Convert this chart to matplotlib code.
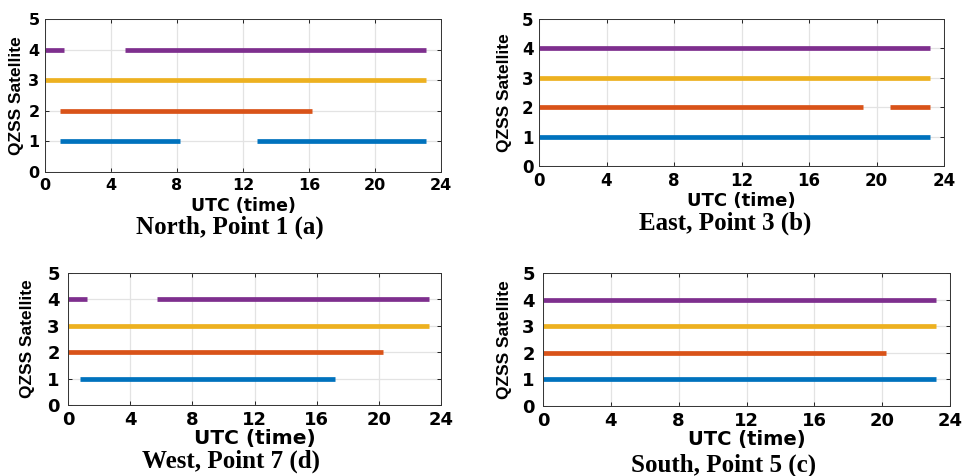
import matplotlib.pyplot as plt

# satellite visibility windows (start, end) in UTC hours, per QZSS satellite
north_p1 = {1: [(0.9, 8.2), (12.85, 23.1)],
            2: [(0.9, 16.2)],
            3: [(0.0, 23.1)],
            4: [(0.0, 1.15), (4.85, 23.1)]}
east_p3 = {1: [(0.0, 23.15)],
           2: [(0.0, 19.2), (20.8, 23.15)],
           3: [(0.0, 23.15)],
           4: [(0.0, 23.15)]}
west_p7 = {1: [(0.75, 17.2)],
           2: [(0.0, 20.25)],
           3: [(0.0, 23.2)],
           4: [(0.0, 1.25), (5.75, 23.2)]}
south_p5 = {1: [(0.0, 23.2)],
            2: [(0.0, 20.2)],
            3: [(0.0, 23.2)],
            4: [(0.0, 23.2)]}

titles = ["North, Point 1 (a)", "East, Point 3 (b)",
          "West, Point 7 (d)", "South, Point 5 (c)"]
panels = [north_p1, east_p3, west_p7, south_p5]
xticks = [0, 4, 8, 12, 16, 20, 24]
yticks = [0, 1, 2, 3, 4, 5]

# MATLAB default line colours
colors = {1: "#0072BD", 2: "#D95319", 3: "#EDB120", 4: "#7E2F8E"}

W, H = 963, 476
fig = plt.figure(figsize=(W / 100, H / 100), dpi=100)

# layout in pixels: axes box (left, top, right, bottom), title centre,
# ylabel x, tick/xlabel sizes (the source panels were stretched differently)
boxes = [(45, 19, 441, 172), (539, 19, 944, 166),
         (68, 273, 441, 405), (543, 273, 950, 406)]
title_xy = [(230, 227), (725, 223), (231, 461), (724, 465)]
ylab_x = [24, 512, 35, 512]
tick_fs = [11.5, 12, 13, 13]
tick_pad = [4, 4, 6, 6]
xlab_fs = [12.5, 13, 14.5, 14]
xlab_pad = [3, 2, 0, 0]

for i, (data, title) in enumerate(zip(panels, titles)):
    l, t, r, b = boxes[i]
    ax = fig.add_axes([l / W, 1 - b / H, (r - l) / W, (b - t) / H])
    for sat, segs in data.items():
        for s, e in segs:
            ax.plot([s, e], [sat, sat], color=colors[sat], lw=3.4,
                    solid_capstyle="butt")
    ax.set_xlim(0, 24)
    ax.set_ylim(0, 5)
    ax.set_xticks(xticks)
    ax.set_yticks(yticks)
    ax.grid(True, color="#e3e3e3", lw=0.9)
    ax.set_axisbelow(True)
    ax.tick_params(direction="in", top=True, right=True, length=3,
                   width=0.6, labelsize=tick_fs[i], pad=4)
    ax.tick_params(axis="y", pad=tick_pad[i])
    for lab in ax.get_xticklabels() + ax.get_yticklabels():
        lab.set_fontfamily("DejaVu Sans")
        lab.set_fontweight("bold")
    for sp in ax.spines.values():
        sp.set_linewidth(0.7)
        sp.set_color("#333333")
    ax.set_xlabel("UTC (time)", fontsize=xlab_fs[i], fontweight="bold",
                  family="DejaVu Sans", labelpad=xlab_pad[i])
    ax.set_ylabel("QZSS Satellite", fontsize=12.5, fontweight="bold",
                  family="Liberation Sans")
    ax.yaxis.set_label_coords((ylab_x[i] - l) / (r - l), 0.5)
    tx, ty = title_xy[i]
    fig.text(tx / W, 1 - ty / H, title, ha="center", va="center",
             fontsize=18, fontweight="bold", family="Liberation Serif")

fig.savefig("out.png", dpi=100)
